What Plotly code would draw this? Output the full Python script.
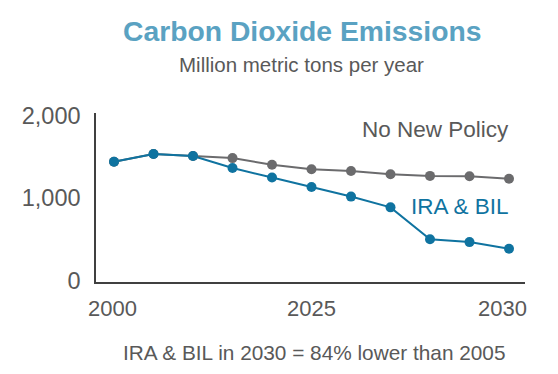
import plotly.graph_objects as go

# Data
x_index = list(range(11))
tick_positions = [0, 5, 10]
tick_labels = ["2000", "2025", "2030"]
ira_bil = [1440, 1535, 1510, 1365, 1250, 1135, 1020, 890, 505, 470, 390]
no_new_policy = [1440, 1535, 1510, 1485, 1405, 1350, 1330, 1290, 1270, 1265, 1235]
y_ticks = [0, 1000, 2000]
y_tick_labels = ["0", "1,000", "2,000"]

BLUE = "#0f73a0"
GRAY = "#6b6b6d"
TEXT = "#595959"
FONT = "Liberation Sans, Arial, sans-serif"

# page offset (body margin) compensation
OFF = 8
W, H = 558 - OFF, 374 - OFF
L, T, R, B = 96 - OFF, 113 - OFF, 33, 92
PW, PH = W - L - R, H - T - B


def px(X, Y):
    """reference-pixel position -> paper coordinates"""
    return (X - OFF - L) / PW, (H - B - (Y - OFF)) / PH


fig = go.Figure()
fig.add_trace(go.Scatter(
    x=x_index, y=no_new_policy, mode="lines+markers",
    line=dict(color=GRAY, width=2), marker=dict(color=GRAY, size=10),
    hoverinfo="skip", showlegend=False))
fig.add_trace(go.Scatter(
    x=x_index, y=ira_bil, mode="lines+markers",
    line=dict(color=BLUE, width=2), marker=dict(color=BLUE, size=10),
    hoverinfo="skip", showlegend=False))

# x tick labels
shifts = [-2, 0, -7]
for pos, lab, sh in zip(tick_positions, tick_labels, shifts):
    fig.add_annotation(x=pos, y=0, xref="x", yref="paper", yanchor="top",
                       text=lab, showarrow=False, xshift=sh, yshift=-12,
                       font=dict(family=FONT, size=22, color=TEXT))

# series labels
x1, y1 = px(511, 129)
fig.add_annotation(x=x1, y=y1, xref="paper", yref="paper", xanchor="right",
                   yanchor="middle", text="No New Policy", showarrow=False,
                   font=dict(family=FONT, size=22.5, color=TEXT))
x2, y2 = px(511, 206)
fig.add_annotation(x=x2, y=y2, xref="paper", yref="paper", xanchor="right",
                   yanchor="middle", text="IRA & BIL", showarrow=False,
                   font=dict(family=FONT, size=22.5, color=BLUE))

# titles and footer
for (X, Y), txt, size, col in [
    ((302.7, 31), "<b>Carbon Dioxide Emissions</b>", 28.3, "#5aa2c2"),
    ((301, 64), "Million metric tons per year", 20.5, TEXT),
    ((314.5, 352), "IRA & BIL in 2030 = 84% lower than 2005", 20.8, TEXT),
]:
    ax_, ay_ = px(X, Y)
    fig.add_annotation(x=ax_, y=ay_, xref="paper", yref="paper", text=txt,
                       xanchor="center", yanchor="middle", showarrow=False,
                       font=dict(family=FONT, size=size, color=col))

fig.update_layout(
    width=W, height=H,
    margin=dict(l=L, r=R, t=T, b=B),
    plot_bgcolor="white", paper_bgcolor="white",
    xaxis=dict(range=[-0.456, 10.405], showticklabels=False, showgrid=False,
               zeroline=False, showline=True, linecolor="#404040", linewidth=1.5,
               ticks=""),
    yaxis=dict(range=[-12, 2030], tickvals=y_ticks, ticktext=y_tick_labels,
               showgrid=False, zeroline=False, showline=True, linecolor="#404040",
               linewidth=1.5, ticks="", ticklabelstandoff=9,
               tickfont=dict(family=FONT, size=23.5, color=TEXT)),
)

fig.write_html("out.html")
